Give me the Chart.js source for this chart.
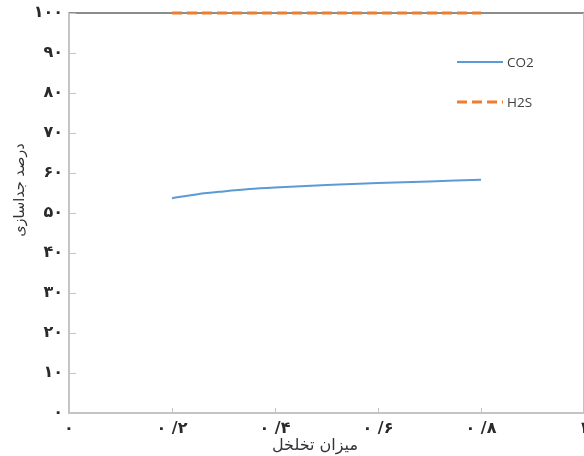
<!DOCTYPE html>
<html>
<head>
<meta charset="utf-8">
<script src="https://cdn.jsdelivr.net/npm/chart.js@4/dist/chart.umd.min.js"></script>
<style>
  html, body { margin: 0; padding: 0; background: #fff; overflow: hidden; }
  #wrap { width: 584px; height: 456px; }
</style>
</head>
<body>
<div id="wrap"><canvas id="chart" width="584" height="456"></canvas></div>
<script>
// values
const seriesNames = ['CO2', 'H2S'];
const co2X = [0.2, 0.25, 0.3, 0.35, 0.4, 0.5, 0.6, 0.7, 0.8];
const co2Y = [53.7, 54.7, 55.4, 56.0, 56.4, 57.0, 57.5, 57.9, 58.3];
const h2sX = [0.2, 0.4, 0.6, 0.8];
const h2sY = [100, 100, 100, 100];
const xTickLabels = ['۰', '۰ /۲', '۰ /۴', '۰ /۶', '۰ /۸', '۱'];
const yTickLabels = ['۰', '۱۰', '۲۰', '۳۰', '۴۰', '۵۰', '۶۰', '۷۰', '۸۰', '۹۰', '۱۰۰'];
const xTitle = 'میزان تخلخل';
const yTitle = 'درصد جداسازی';

const faFont = "'DejaVu Sans'";
const axisGray = '#c4c4c4';

// box around the plot + short inside tick marks + axis titles
const frame = {
  id: 'frame',
  beforeDatasetsDraw(chart) {
    const { ctx, chartArea: a, scales } = chart;
    ctx.save();
    ctx.lineWidth = 2;
    ctx.strokeStyle = '#8c8c8c';
    ctx.beginPath(); ctx.moveTo(a.left, a.top); ctx.lineTo(a.right, a.top); ctx.stroke();
    ctx.strokeStyle = axisGray;
    ctx.beginPath(); ctx.moveTo(a.right, a.top); ctx.lineTo(a.right, a.bottom); ctx.stroke();
    ctx.lineWidth = 1;
    scales.y.ticks.forEach(t => {
      const y = Math.round(scales.y.getPixelForValue(t.value)) + 0.5;
      ctx.beginPath(); ctx.moveTo(a.left, y); ctx.lineTo(a.left + 7, y); ctx.stroke();
    });
    scales.x.ticks.forEach(t => {
      const x = Math.round(scales.x.getPixelForValue(t.value)) + 0.5;
      ctx.beginPath(); ctx.moveTo(x, a.bottom); ctx.lineTo(x, a.bottom - 5); ctx.stroke();
    });
    ctx.fillStyle = '#333';
    ctx.textAlign = 'center';
    ctx.textBaseline = 'middle';
    // x title, slightly left of centre like the source
    ctx.font = "16px " + faFont;
    ctx.fillText(xTitle, 315, 446);
    // y title, a bit above the middle
    ctx.translate(20, 190);
    ctx.rotate(-Math.PI / 2);
    ctx.font = "14.5px " + faFont;
    ctx.fillText(yTitle, 0, 0);
    ctx.restore();
  }
};

// legend inside the plot, right side
const sideLegend = {
  id: 'sideLegend',
  afterDraw(chart) {
    const ctx = chart.ctx;
    ctx.save();
    chart.data.datasets.forEach((ds, i) => {
      const y = 62 + i * 40;
      ctx.strokeStyle = ds.borderColor;
      ctx.lineWidth = ds.borderWidth;
      ctx.setLineDash(ds.borderDash || []);
      ctx.beginPath(); ctx.moveTo(457, y); ctx.lineTo(503, y); ctx.stroke();
      ctx.setLineDash([]);
      ctx.fillStyle = '#404040';
      ctx.font = "13.5px 'Open Sans'";
      ctx.textBaseline = 'middle';
      ctx.fillText(ds.label, 507, y + 1);
    });
    ctx.restore();
  }
};

const ctx = document.getElementById('chart').getContext('2d');
new Chart(ctx, {
  type: 'line',
  data: {
    datasets: [
      {
        label: seriesNames[0],
        data: co2X.map((x, i) => ({ x, y: co2Y[i] })),
        borderColor: '#5b9bd5',
        borderWidth: 2,
        pointRadius: 0,
        cubicInterpolationMode: 'monotone',
        clip: false
      },
      {
        label: seriesNames[1],
        data: h2sX.map((x, i) => ({ x, y: h2sY[i] })),
        borderColor: '#ed7d31',
        borderWidth: 3,
        borderDash: [10, 5],
        pointRadius: 0,
        clip: false
      }
    ]
  },
  options: {
    responsive: false,
    animation: false,
    layout: { padding: { top: 13, right: 0, bottom: 0, left: 0 } },
    plugins: { legend: { display: false }, tooltip: { enabled: false } },
    scales: {
      x: {
        type: 'linear',
        min: 0, max: 1,
        afterBuildTicks: s => { s.ticks = xTickLabels.map((_, i) => ({ value: i * 0.2 })); },
        afterFit: s => { s.paddingRight = 0; s.paddingLeft = 0; s.height = 43; },
        grid: { display: false, drawTicks: false },
        border: { color: axisGray, width: 2 },
        ticks: {
          maxRotation: 0,
          autoSkip: false,
          padding: 6,
          color: '#2a2a2a',
          font: { family: faFont, size: 16, weight: 'bold' },
          callback: (v, i) => xTickLabels[i]
        }
      },
      y: {
        min: 0, max: 100,
        afterBuildTicks: s => { s.ticks = yTickLabels.map((_, i) => ({ value: i * 10 })); },
        afterFit: s => { s.width = 69; s.paddingTop = 0; s.paddingBottom = 0; },
        grid: { display: false, drawTicks: false },
        border: { color: axisGray, width: 2 },
        ticks: {
          autoSkip: false,
          padding: 6,
          color: '#2a2a2a',
          font: { family: faFont, size: 16, weight: 'bold' },
          callback: (v, i) => yTickLabels[i]
        }
      }
    }
  },
  plugins: [frame, sideLegend]
});
</script>
</body>
</html>
